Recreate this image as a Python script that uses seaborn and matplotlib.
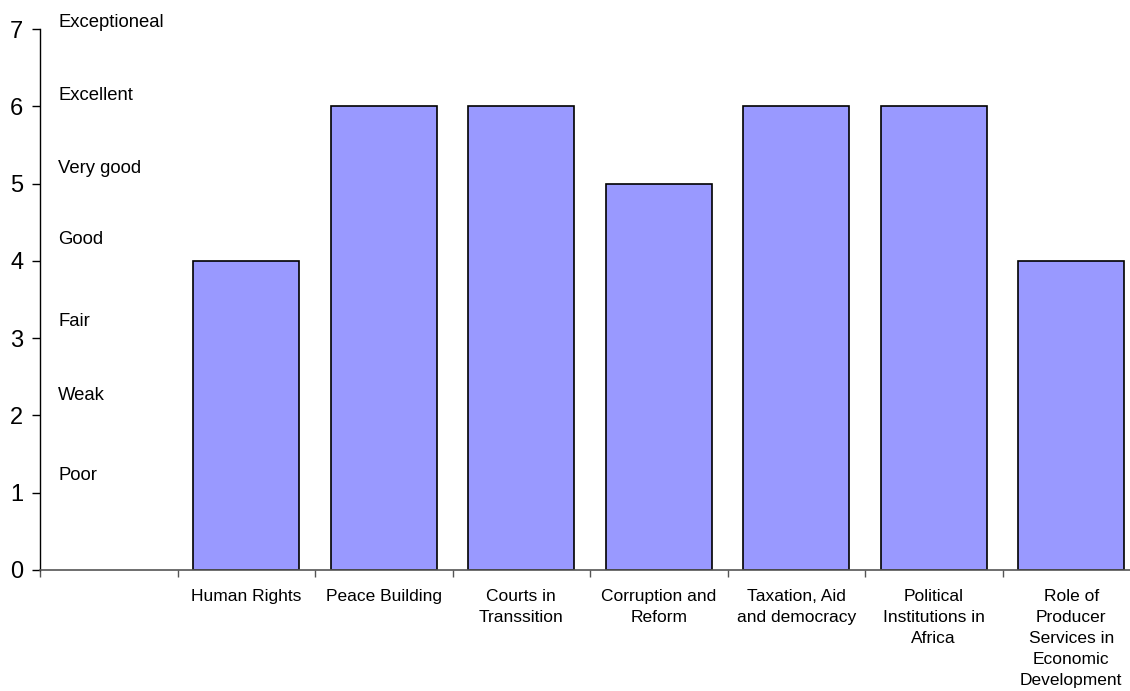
import seaborn as sns
import matplotlib.pyplot as plt
import pandas as pd
from matplotlib.ticker import FixedLocator

# data
slots = ["", "Human Rights", "Peace Building", "Courts in\nTranssition",
         "Corruption and\nReform", "Taxation, Aid\nand democracy",
         "Political\nInstitutions in\nAfrica",
         "Role of\nProducer\nServices in\nEconomic\nDevelopment"]
courses = slots[1:]
scores = [4, 6, 6, 5, 6, 6, 4]
rating_names = ["Poor", "Weak", "Fair", "Good", "Very good", "Excellent", "Exceptioneal"]
rating_pos = [1.22, 2.26, 3.21, 4.27, 5.20, 6.14, 7.09]

df = pd.DataFrame({"course": courses, "score": scores})

sns.set_style("white")
plt.rcParams['font.family'] = ['Liberation Sans', 'DejaVu Sans']
plt.rcParams['text.color'] = 'black'
plt.rcParams['xtick.color'] = 'black'
plt.rcParams['ytick.color'] = 'black'

fig = plt.figure(figsize=(11.3, 6.91), dpi=100)
ax = fig.add_axes([40 / 1130, 1 - 570 / 691, 1100 / 1130, 541 / 691])

sns.barplot(data=df, x="course", y="score", order=slots, color="#9999FF",
            saturation=1, width=0.77, edgecolor="black", linewidth=1.2, ax=ax)

ax.set_xlim(-0.5, len(slots) - 0.5)
ax.set_ylim(0, 7)
ax.set_yticks(range(8))
ax.tick_params(axis="y", direction="out", length=6, width=1, color="black",
               labelcolor="black", labelsize=17, pad=6, left=True)
ax.set_xticks(range(len(slots)))
ax.set_xticklabels(slots, fontsize=12.5, linespacing=1.5, va="top", color="black")
ax.xaxis.set_minor_locator(FixedLocator([i - 0.5 for i in range(len(slots) + 1)]))
ax.tick_params(axis="x", which="major", length=0, pad=14)
ax.tick_params(axis="x", which="minor", direction="out", length=5, width=1,
               color="#555555", bottom=True)

for name, pos in zip(rating_names, rating_pos):
    ax.text(0.0165, pos, name, transform=ax.get_yaxis_transform(),
            fontsize=13.3, va="center", ha="left", color="black")

for side in ["top", "right"]:
    ax.spines[side].set_visible(False)
ax.spines["left"].set_color("black")
ax.spines["left"].set_linewidth(1)
ax.spines["bottom"].set_color("#555555")
ax.spines["bottom"].set_linewidth(1.2)
ax.set_xlabel("")
ax.set_ylabel("")

fig.savefig("out.png", dpi=100)
